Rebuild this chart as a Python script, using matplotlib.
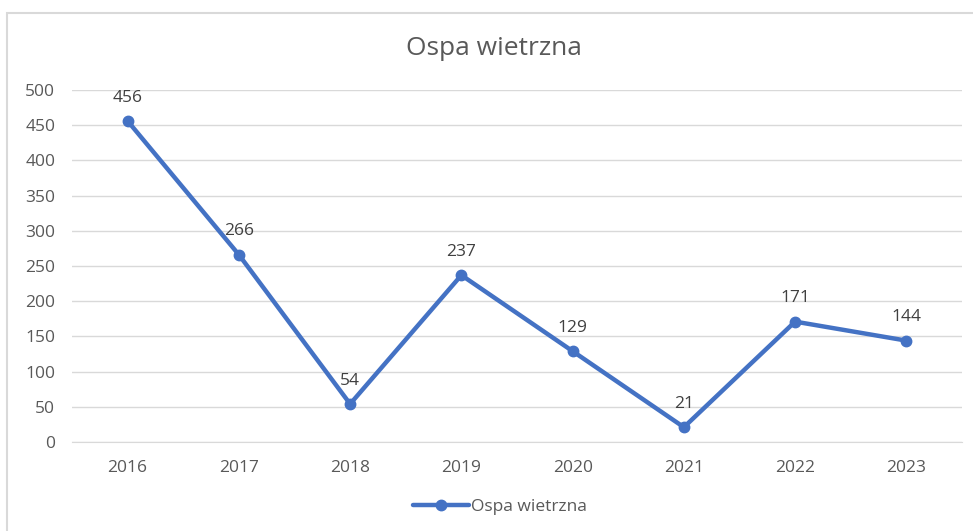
import matplotlib
matplotlib.use("Agg")
import matplotlib.pyplot as plt
from matplotlib.patches import Rectangle

years = ["2016", "2017", "2018", "2019", "2020", "2021", "2022", "2023"]
values = [456, 266, 54, 237, 129, 21, 171, 144]
yticks = [0, 50, 100, 150, 200, 250, 300, 350, 400, 450, 500]
series_name = "Ospa wietrzna"
title = "Ospa wietrzna"

W, H = 973, 531
plt.rcParams['font.family'] = ['Open Sans', 'DejaVu Sans']
fig = plt.figure(figsize=(W/100, H/100), dpi=100)
fig.patch.set_facecolor("white")

# outer chart border (left/top visible)
fig.patches.append(Rectangle((7/W, -0.1), 1.2, 1 - 13/H + 0.1, transform=fig.transFigure,
                             fill=False, edgecolor="#d9d9d9", linewidth=1.5))

ax = fig.add_axes([72/W, 1 - 442/H, (962-72)/W, (442-90)/H])
x = list(range(len(years)))
line, = ax.plot(x, values, color="#4472C4", linewidth=3.2, marker="o", markersize=7.5,
                solid_capstyle="round", label=series_name, zorder=3)
for xi, v in zip(x, values):
    ax.annotate(str(v), (xi, v), xytext=(0, 11), textcoords="offset points",
                ha="center", va="bottom", fontsize=12.5, color="#404040")

ax.set_xlim(-0.5, len(years) - 0.5)
ax.set_ylim(0, 500)
ax.set_yticks(yticks)
ax.set_xticks(x)
ax.set_xticklabels(years)
ax.grid(axis="y", color="#d9d9d9", linewidth=1)
ax.set_axisbelow(True)
for s in ["top", "right", "left"]:
    ax.spines[s].set_visible(False)
ax.spines["bottom"].set_color("#d9d9d9")
ax.tick_params(axis="both", length=0, labelsize=12.5, labelcolor="#595959")
ax.tick_params(axis="y", pad=12)
ax.tick_params(axis="x", pad=13)

fig.text(494/W, 1 - 48/H, title, ha="center", va="center", fontsize=19, color="#595959")

leg = fig.legend(handles=[line], loc="center", bbox_to_anchor=(500/W, 1 - 507/H), frameon=False,
                 fontsize=12.5, handlelength=3.2, handletextpad=0.1)
for t in leg.get_texts():
    t.set_color("#595959")

fig.savefig("out.png", dpi=100, facecolor="white")
